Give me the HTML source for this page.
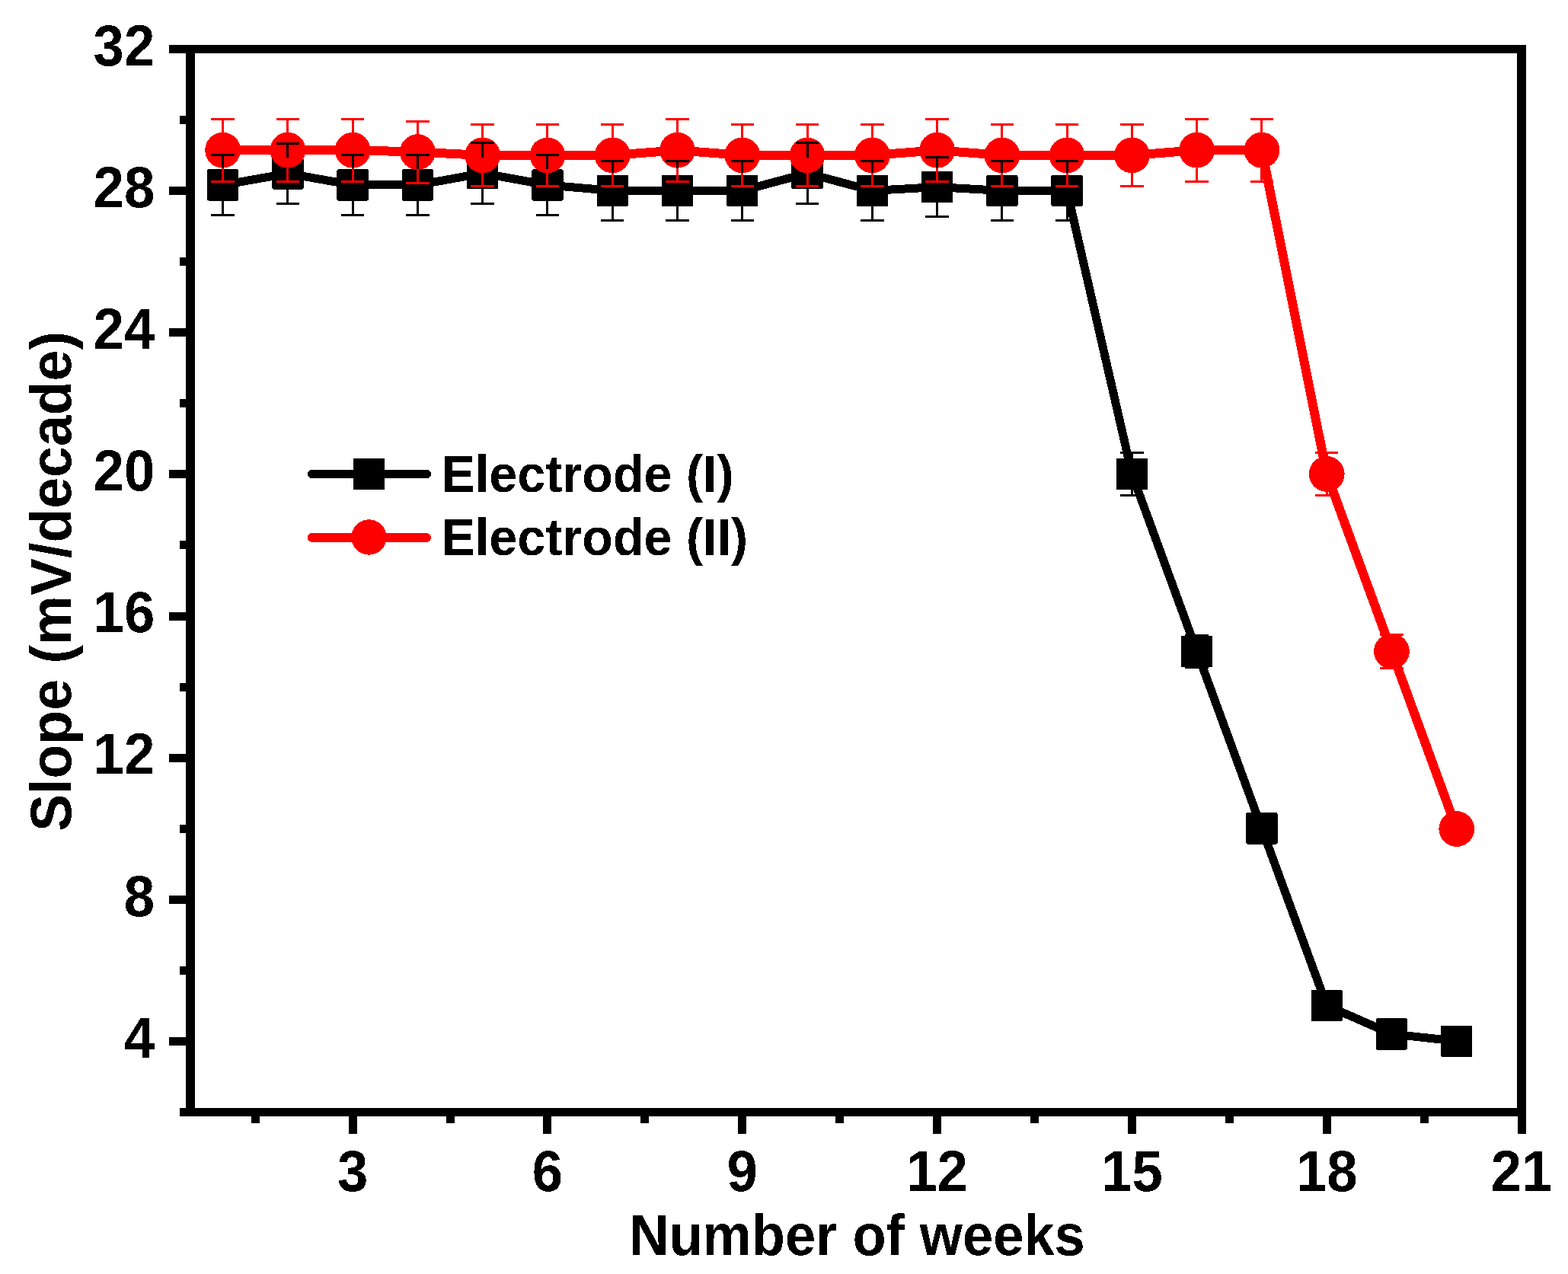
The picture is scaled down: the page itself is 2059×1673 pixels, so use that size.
<!DOCTYPE html>
<html lang="en"><head><meta charset="utf-8"><title>Slope vs Number of weeks</title>
<style>html,body{margin:0;padding:0;background:#fff;}body{width:2059px;height:1673px;overflow:hidden;}svg{display:block;}text{font-family:'Liberation Sans', Arial, Helvetica, sans-serif;font-weight:bold;fill:#000;}</style>
</head><body>
<svg width="2059" height="1673" viewBox="0 0 2059 1673" shape-rendering="crispEdges">
<defs><filter id="bin" x="-5%" y="-20%" width="110%" height="140%" color-interpolation-filters="sRGB"><feComponentTransfer><feFuncA type="discrete" tableValues="0 1"/></feComponentTransfer></filter></defs>
<rect x="0" y="0" width="2059" height="1673" fill="#fff"/>
<g id="series-black">
<polyline points="292.63,242.9 377.9,227.8 463.17,242.9 548.44,242.9 633.71,227.5 718.98,243 804.24,250.4 889.51,250.4 974.78,250.4 1060.05,227.5 1145.32,250.4 1230.59,245.6 1315.85,250.4 1401.12,250.4 1486.39,622.4 1571.66,855.4 1656.93,1087.9 1742.2,1320.4 1827.46,1357.9 1912.73,1367.2" fill="none" stroke="#000" stroke-width="11" stroke-linejoin="round" stroke-linecap="round"/>
<rect x="271.93" y="222.2" width="41.4" height="41.4" rx="2" fill="#000"/>
<rect x="357.2" y="207.1" width="41.4" height="41.4" rx="2" fill="#000"/>
<rect x="442.47" y="222.2" width="41.4" height="41.4" rx="2" fill="#000"/>
<rect x="527.74" y="222.2" width="41.4" height="41.4" rx="2" fill="#000"/>
<rect x="613.01" y="206.8" width="41.4" height="41.4" rx="2" fill="#000"/>
<rect x="698.28" y="222.3" width="41.4" height="41.4" rx="2" fill="#000"/>
<rect x="783.54" y="229.7" width="41.4" height="41.4" rx="2" fill="#000"/>
<rect x="868.81" y="229.7" width="41.4" height="41.4" rx="2" fill="#000"/>
<rect x="954.08" y="229.7" width="41.4" height="41.4" rx="2" fill="#000"/>
<rect x="1039.35" y="206.8" width="41.4" height="41.4" rx="2" fill="#000"/>
<rect x="1124.62" y="229.7" width="41.4" height="41.4" rx="2" fill="#000"/>
<rect x="1209.89" y="224.9" width="41.4" height="41.4" rx="2" fill="#000"/>
<rect x="1295.15" y="229.7" width="41.4" height="41.4" rx="2" fill="#000"/>
<rect x="1380.42" y="229.7" width="41.4" height="41.4" rx="2" fill="#000"/>
<rect x="1465.69" y="601.7" width="41.4" height="41.4" rx="2" fill="#000"/>
<rect x="1550.96" y="834.7" width="41.4" height="41.4" rx="2" fill="#000"/>
<rect x="1636.23" y="1067.2" width="41.4" height="41.4" rx="2" fill="#000"/>
<rect x="1721.5" y="1299.7" width="41.4" height="41.4" rx="2" fill="#000"/>
<rect x="1806.76" y="1337.2" width="41.4" height="41.4" rx="2" fill="#000"/>
<rect x="1892.03" y="1346.5" width="41.4" height="41.4" rx="2" fill="#000"/>
</g>
<g id="series-red">
<polyline points="292.63,197.2 377.9,197.2 463.17,197.2 548.44,199.6 633.71,203.9 718.98,203.9 804.24,203.9 889.51,197.3 974.78,203.9 1060.05,203.9 1145.32,203.9 1230.59,197.3 1315.85,203.9 1401.12,203.9 1486.39,203.9 1571.66,197.2 1656.93,197.2 1742.2,622.4 1827.46,855.4 1912.73,1088.5" fill="none" stroke="#ff0000" stroke-width="12" stroke-linejoin="round" stroke-linecap="round"/>
<circle cx="292.63" cy="197.2" r="23.4" fill="#ff0000"/>
<circle cx="377.9" cy="197.2" r="23.4" fill="#ff0000"/>
<circle cx="463.17" cy="197.2" r="23.4" fill="#ff0000"/>
<circle cx="548.44" cy="199.6" r="23.4" fill="#ff0000"/>
<circle cx="633.71" cy="203.9" r="23.4" fill="#ff0000"/>
<circle cx="718.98" cy="203.9" r="23.4" fill="#ff0000"/>
<circle cx="804.24" cy="203.9" r="23.4" fill="#ff0000"/>
<circle cx="889.51" cy="197.3" r="23.4" fill="#ff0000"/>
<circle cx="974.78" cy="203.9" r="23.4" fill="#ff0000"/>
<circle cx="1060.05" cy="203.9" r="23.4" fill="#ff0000"/>
<circle cx="1145.32" cy="203.9" r="23.4" fill="#ff0000"/>
<circle cx="1230.59" cy="197.3" r="23.4" fill="#ff0000"/>
<circle cx="1315.85" cy="203.9" r="23.4" fill="#ff0000"/>
<circle cx="1401.12" cy="203.9" r="23.4" fill="#ff0000"/>
<circle cx="1486.39" cy="203.9" r="23.4" fill="#ff0000"/>
<circle cx="1571.66" cy="197.2" r="23.4" fill="#ff0000"/>
<circle cx="1656.93" cy="197.2" r="23.4" fill="#ff0000"/>
<circle cx="1742.2" cy="622.4" r="23.4" fill="#ff0000"/>
<circle cx="1827.46" cy="855.4" r="23.4" fill="#ff0000"/>
<circle cx="1912.73" cy="1088.5" r="23.4" fill="#ff0000"/>
</g>
<path d="M292.63 222.2V203.8M292.63 263.6V282M277.38 203.8H307.88M277.38 282H307.88M377.9 207.1V188M377.9 248.5V267.6M362.65 188H393.15M362.65 267.6H393.15M463.17 222.2V203.8M463.17 263.6V282M447.92 203.8H478.42M447.92 282H478.42M548.44 222.2V203.8M548.44 263.6V282M533.19 203.8H563.69M533.19 282H563.69M633.71 206.8V187.7M633.71 248.2V267.3M618.46 187.7H648.96M618.46 267.3H648.96M718.98 222.3V203.9M718.98 263.7V282.1M703.73 203.9H734.23M703.73 282.1H734.23M804.24 229.7V211.3M804.24 271.1V289.5M788.99 211.3H819.49M788.99 289.5H819.49M889.51 229.7V211.3M889.51 271.1V289.5M874.26 211.3H904.76M874.26 289.5H904.76M974.78 229.7V211.3M974.78 271.1V289.5M959.53 211.3H990.03M959.53 289.5H990.03M1060.05 206.8V187.7M1060.05 248.2V267.3M1044.8 187.7H1075.3M1044.8 267.3H1075.3M1145.32 229.7V211.3M1145.32 271.1V289.5M1130.07 211.3H1160.57M1130.07 289.5H1160.57M1230.59 224.9V206.3M1230.59 266.3V284.9M1215.34 206.3H1245.84M1215.34 284.9H1245.84M1315.85 229.7V211.3M1315.85 271.1V289.5M1300.6 211.3H1331.1M1300.6 289.5H1331.1M1401.12 229.7V211.3M1401.12 271.1V289.5M1385.87 211.3H1416.37M1385.87 289.5H1416.37M1486.39 601.7V594.4M1486.39 643.1V650.4M1471.14 594.4H1501.64M1471.14 650.4H1501.64M1556.41 834H1586.91M1556.41 876.8H1586.91" fill="none" stroke="#000" stroke-width="3"/>
<path d="M292.63 173.8V156.4M292.63 220.6V238M277.38 156.4H307.88M277.38 238H307.88M377.9 173.8V156.4M377.9 220.6V238M362.65 156.4H393.15M362.65 238H393.15M463.17 173.8V156.4M463.17 220.6V238M447.92 156.4H478.42M447.92 238H478.42M548.44 176.2V159.1M548.44 223V240.1M533.19 159.1H563.69M533.19 240.1H563.69M633.71 180.5V163.3M633.71 227.3V244.5M618.46 163.3H648.96M618.46 244.5H648.96M718.98 180.5V163.3M718.98 227.3V244.5M703.73 163.3H734.23M703.73 244.5H734.23M804.24 180.5V163.3M804.24 227.3V244.5M788.99 163.3H819.49M788.99 244.5H819.49M889.51 173.9V156.5M889.51 220.7V238.1M874.26 156.5H904.76M874.26 238.1H904.76M974.78 180.5V163.3M974.78 227.3V244.5M959.53 163.3H990.03M959.53 244.5H990.03M1060.05 180.5V163.3M1060.05 227.3V244.5M1044.8 163.3H1075.3M1044.8 244.5H1075.3M1145.32 180.5V163.3M1145.32 227.3V244.5M1130.07 163.3H1160.57M1130.07 244.5H1160.57M1230.59 173.9V156.5M1230.59 220.7V238.1M1215.34 156.5H1245.84M1215.34 238.1H1245.84M1315.85 180.5V163.3M1315.85 227.3V244.5M1300.6 163.3H1331.1M1300.6 244.5H1331.1M1401.12 180.5V163.3M1401.12 227.3V244.5M1385.87 163.3H1416.37M1385.87 244.5H1416.37M1486.39 180.5V163.3M1486.39 227.3V244.5M1471.14 163.3H1501.64M1471.14 244.5H1501.64M1571.66 173.8V156.4M1571.66 220.6V238M1556.41 156.4H1586.91M1556.41 238H1586.91M1656.93 173.8V156.4M1656.93 220.6V238M1641.68 156.4H1672.18M1641.68 238H1672.18M1742.2 599V594.4M1742.2 645.8V650.4M1726.95 594.4H1757.45M1726.95 650.4H1757.45M1812.21 833.4H1842.71M1812.21 877.4H1842.71" fill="none" stroke="#ff0000" stroke-width="3"/>
<g id="axes" fill="#000">
<rect x="244" y="59" width="12" height="1407"/>
<rect x="1992" y="59" width="12" height="1407"/>
<rect x="244" y="59" width="1760" height="11"/>
<rect x="244" y="1455" width="1760" height="11"/>
<rect x="236" y="1455" width="8" height="11"/>
<rect x="222" y="1361.93" width="22" height="11"/>
<rect x="236" y="1268.87" width="8" height="11"/>
<rect x="222" y="1175.8" width="22" height="11"/>
<rect x="236" y="1082.73" width="8" height="11"/>
<rect x="222" y="989.67" width="22" height="11"/>
<rect x="236" y="896.6" width="8" height="11"/>
<rect x="222" y="803.53" width="22" height="11"/>
<rect x="236" y="710.47" width="8" height="11"/>
<rect x="222" y="617.4" width="22" height="11"/>
<rect x="236" y="524.33" width="8" height="11"/>
<rect x="222" y="431.27" width="22" height="11"/>
<rect x="236" y="338.2" width="8" height="11"/>
<rect x="222" y="245.13" width="22" height="11"/>
<rect x="236" y="152.07" width="8" height="11"/>
<rect x="222" y="59" width="22" height="11"/>
<rect x="329.77" y="1466" width="11" height="9"/>
<rect x="457.67" y="1466" width="11" height="23"/>
<rect x="585.57" y="1466" width="11" height="9"/>
<rect x="713.48" y="1466" width="11" height="23"/>
<rect x="841.38" y="1466" width="11" height="9"/>
<rect x="969.28" y="1466" width="11" height="23"/>
<rect x="1097.18" y="1466" width="11" height="9"/>
<rect x="1225.09" y="1466" width="11" height="23"/>
<rect x="1352.99" y="1466" width="11" height="9"/>
<rect x="1480.89" y="1466" width="11" height="23"/>
<rect x="1608.79" y="1466" width="11" height="9"/>
<rect x="1736.7" y="1466" width="11" height="23"/>
<rect x="1864.6" y="1466" width="11" height="9"/>
<rect x="1992.5" y="1466" width="11" height="23"/>
</g>
<text x="0" y="0" font-size="72.5" text-anchor="middle" transform="translate(463.17 1564.3) scale(1 1.04)" filter="url(#bin)">3</text>
<text x="0" y="0" font-size="72.5" text-anchor="middle" transform="translate(718.98 1564.3) scale(1 1.04)" filter="url(#bin)">6</text>
<text x="0" y="0" font-size="72.5" text-anchor="middle" transform="translate(974.78 1564.3) scale(1 1.04)" filter="url(#bin)">9</text>
<text x="0" y="0" font-size="72.5" text-anchor="middle" transform="translate(1230.59 1564.3) scale(1 1.04)" filter="url(#bin)">12</text>
<text x="0" y="0" font-size="72.5" text-anchor="middle" transform="translate(1486.39 1564.3) scale(1 1.04)" filter="url(#bin)">15</text>
<text x="0" y="0" font-size="72.5" text-anchor="middle" transform="translate(1742.2 1564.3) scale(1 1.04)" filter="url(#bin)">18</text>
<text x="0" y="0" font-size="72.5" text-anchor="middle" transform="translate(1998 1564.3) scale(1 1.04)" filter="url(#bin)">21</text>
<text x="0" y="0" font-size="72.5" text-anchor="end" transform="translate(203.2 1388.73) scale(1 1.04)" filter="url(#bin)">4</text>
<text x="0" y="0" font-size="72.5" text-anchor="end" transform="translate(203.2 1202.6) scale(1 1.04)" filter="url(#bin)">8</text>
<text x="0" y="0" font-size="72.5" text-anchor="end" transform="translate(203.2 1016.47) scale(1 1.04)" filter="url(#bin)">12</text>
<text x="0" y="0" font-size="72.5" text-anchor="end" transform="translate(203.2 830.33) scale(1 1.04)" filter="url(#bin)">16</text>
<text x="0" y="0" font-size="72.5" text-anchor="end" transform="translate(203.2 644.2) scale(1 1.04)" filter="url(#bin)">20</text>
<text x="0" y="0" font-size="72.5" text-anchor="end" transform="translate(203.2 458.07) scale(1 1.04)" filter="url(#bin)">24</text>
<text x="0" y="0" font-size="72.5" text-anchor="end" transform="translate(203.2 271.93) scale(1 1.04)" filter="url(#bin)">28</text>
<text x="0" y="0" font-size="72.5" text-anchor="end" transform="translate(203.2 85.8) scale(1 1.04)" filter="url(#bin)">32</text>
<text x="0" y="0" font-size="72.3" text-anchor="middle" transform="translate(1125.5 1647.7) scale(1 1.04)" filter="url(#bin)">Number of weeks</text>
<text x="0" y="0" font-size="73.4" text-anchor="middle" transform="translate(93 763.5) rotate(-90) scale(1 1.04)" filter="url(#bin)">Slope (mV/decade)</text>
<g id="legend">
<line x1="409.5" y1="622.4" x2="560.5" y2="622.4" stroke="#000" stroke-width="11" stroke-linecap="round"/>
<rect x="464" y="602.2" width="41" height="40.6" fill="#000"/>
<line x1="409.8" y1="705.9" x2="559.9" y2="705.9" stroke="#ff0000" stroke-width="12" stroke-linecap="round"/>
<circle cx="484.5" cy="705.5" r="23.2" fill="#ff0000"/>
<text x="0" y="0" font-size="66.5" text-anchor="start" transform="translate(579.5 645.8) scale(1 1.04)" filter="url(#bin)">Electrode (I)</text>
<text x="0" y="0" font-size="66.5" text-anchor="start" transform="translate(579.5 728.8) scale(1 1.04)" filter="url(#bin)">Electrode (II)</text>
</g>
</svg>
</body></html>
